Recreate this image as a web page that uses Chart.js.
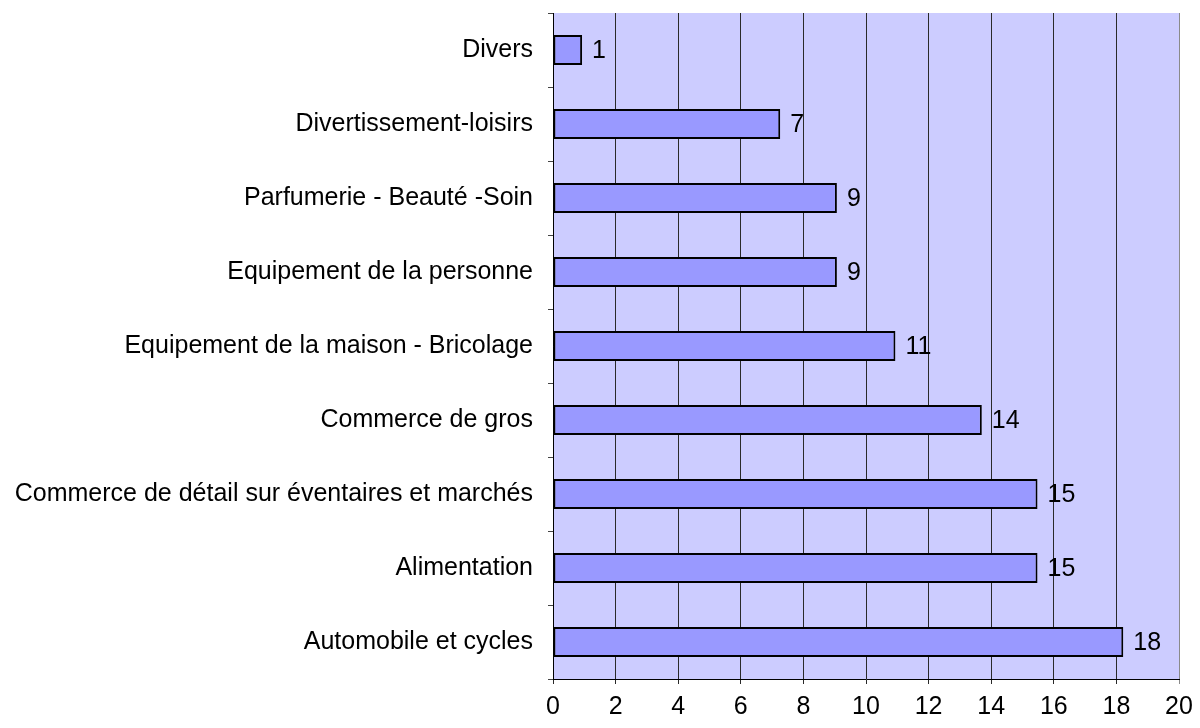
<!DOCTYPE html>
<html>
<head>
<meta charset="utf-8">
<script src="https://cdn.jsdelivr.net/npm/chart.js@4/dist/chart.umd.min.js"></script>
<style>
	html, body { margin: 0; padding: 0; background: #fff; }
	#wrap { width: 1200px; height: 728px; }
</style>
</head>
<body>
<div id="wrap"><canvas id="chart-secteurs" width="1200" height="728"></canvas></div>
<script>
const CATEGORIES = [
	"Divers",
	"Divertissement-loisirs",
	"Parfumerie - Beauté -Soin",
	"Equipement de la personne",
	"Equipement de la maison - Bricolage",
	"Commerce de gros",
	"Commerce de détail sur éventaires et marchés",
	"Alimentation",
	"Automobile et cycles",
];
const VALUES = [0.93, 7.26, 9.07, 9.07, 10.94, 13.7, 15.48, 15.48, 18.22];
const X_MIN = 0;
const X_MAX = 20;
const X_STEP = 2;

const FONT = { family: "'Liberation Sans', Arial, sans-serif", size: 25 };
const GRID_DARK = "#2a2a2a";
const GRID_EDGE = "#8a8a8a";

const CHART_WRAPPER = document.getElementById("chart-secteurs");

// lavender plot area behind the grid
const plotBackground = {
	id: "plotBackground",
	beforeDraw: (chart) => {
		const { ctx, chartArea } = chart;
		ctx.save();
		ctx.fillStyle = "#ccccff";
		ctx.fillRect(chartArea.left, chartArea.top, chartArea.right - chartArea.left, chartArea.bottom - chartArea.top);
		ctx.restore();
	},
};

// rounded value to the right of each bar
const valueLabels = {
	id: "valueLabels",
	afterDatasetsDraw: (chart) => {
		const { ctx } = chart;
		const meta = chart.getDatasetMeta(0);
		ctx.save();
		ctx.font = FONT.size + "px " + FONT.family;
		ctx.fillStyle = "#000";
		ctx.textAlign = "left";
		ctx.textBaseline = "middle";
		meta.data.forEach((bar, i) => {
			ctx.fillText(String(Math.round(VALUES[i])), bar.x + 10, bar.y + 1);
		});
		ctx.restore();
	},
};

const CHART_DATA = {
	labels: CATEGORIES,
	datasets: [
		{
			data: VALUES,
			backgroundColor: "#9999ff",
			borderColor: "#000",
			borderWidth: 2,
			borderSkipped: false,
			barPercentage: 0.405,
			categoryPercentage: 1,
		},
	],
};

const CHART_CONFIG = {
	type: "bar",
	data: CHART_DATA,
	plugins: [plotBackground, valueLabels],
	options: {
		indexAxis: "y",
		responsive: false,
		animation: false,
		layout: {
			padding: { top: 13, right: 21, left: 0, bottom: 0 },
		},
		plugins: {
			legend: { display: false },
			title: { display: false },
			tooltip: { enabled: false },
		},
		scales: {
			x: {
				min: X_MIN,
				max: X_MAX,
				border: { display: true, color: "#000", width: 1 },
				grid: {
					display: true,
					drawOnChartArea: true,
					drawTicks: true,
					tickLength: 5,
					color: (c) => (c.tick && c.tick.value === X_MAX ? GRID_EDGE : GRID_DARK),
					lineWidth: 1,
				},
				ticks: {
					stepSize: X_STEP,
					color: "#000",
					font: FONT,
					padding: 8,
					maxRotation: 0,
				},
				afterFit: (scale) => {
					scale.height = 49;
					scale.paddingLeft = 0;
					scale.paddingRight = 0;
				},
			},
			y: {
				border: { display: true, color: "#000", width: 1 },
				grid: {
					display: true,
					offset: true,
					drawOnChartArea: false,
					drawTicks: true,
					tickLength: 5,
					color: "#444",
				},
				ticks: {
					color: "#000",
					font: FONT,
					padding: 15,
					autoSkip: false,
				},
				afterFit: (scale) => {
					scale.width = 553;
					scale.paddingTop = 0;
					scale.paddingBottom = 0;
				},
			},
		},
	},
};

let secteursChart;
if (CHART_WRAPPER) {
	secteursChart = new Chart(CHART_WRAPPER, CHART_CONFIG);
}
</script>
</body>
</html>
